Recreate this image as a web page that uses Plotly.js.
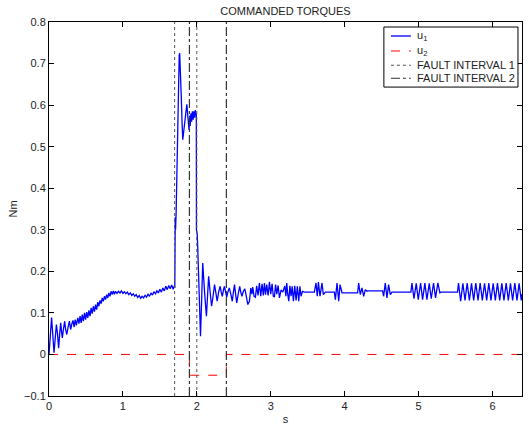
<!DOCTYPE html>
<html>
<head>
<meta charset="utf-8">
<script src="https://cdn.plot.ly/plotly-3.0.1.min.js"></script>
<style>
html,body{margin:0;padding:0;background:#fff;}
#chart{width:529px;height:428px;}
</style>
</head>
<body>
<div id="chart"></div>
<script>
// u1 commanded torque (time s, value Nm)
const u1T = [
0,0.01,0.02,0.035,0.05,0.068,0.085,0.10,0.115,0.13,0.145,0.158,0.17,0.18,0.195,0.212,0.225,0.24,0.258,0.276,0.285,0.293,
0.31,0.325,0.34,0.355,0.37,0.39,0.405,0.42,0.435,0.45,0.465,0.48,0.495,0.51,0.525,0.54,0.555,0.57,0.585,0.60,0.615,0.63,
0.645,0.66,0.675,0.69,0.705,0.72,0.735,0.75,0.765,0.78,0.795,0.81,0.825,0.84,0.855,0.87,0.885,
0.90,0.92,0.94,0.96,0.98,1.00,1.02,1.04,1.06,1.08,1.10,1.12,1.14,1.16,1.18,1.20,1.22,1.24,1.26,1.28,1.30,1.32,1.34,1.36,
1.38,1.40,1.42,1.44,1.46,1.48,1.50,1.52,1.54,1.56,1.58,1.60,1.62,1.64,1.66,1.68,1.695,1.702,
1.703,1.708,1.712,1.72,1.73,1.745,1.755,1.762,1.768,1.772,1.776,1.78,1.79,1.80,1.81,1.825,1.84,1.855,1.865,1.875,1.885,
1.895,1.905,1.91,1.92,1.93,1.94,1.95,1.96,1.97,1.98,1.99,1.993,1.995,2.005,2.012,2.03,2.05,2.065,2.08,2.105,2.13,2.145,
2.16,2.18,2.20,2.22,2.24,2.258,2.275,2.295,2.316,2.33,2.345,2.36,2.374,2.39,2.405,2.42,2.44,2.46,2.48,2.495,2.51,2.525,
2.54,2.56,2.58,2.595,2.61,2.63,2.65,2.67,2.69,
2.712,2.73,2.745,2.757,2.775,2.793,2.81,2.828,2.847,2.865,2.883,2.9,2.915,2.93,2.946,2.965,2.983,3.0,3.019,3.035,3.05,
3.066,3.082,3.1,3.118,3.14,3.163,3.19,3.205,3.217,3.23,3.244,3.26,3.275,3.29,3.307,3.325,3.343,3.36,3.379,3.395,3.41,
3.43,3.455,3.59,3.613,3.63,3.645,3.667,3.694,3.712,3.739,3.861,3.875,3.897,3.92,3.938,3.956,3.965,4.176,4.19,4.212,
4.235,4.258,4.28,4.302,4.311,4.514,4.528,4.55,4.573,4.595,4.618,4.64,4.649,4.897,4.911,4.938,4.969,4.996,5.028,5.055,
5.086,5.113,5.145,5.172,5.203,5.23,5.262,5.289,5.303,5.528,5.541,5.570,5.600,5.629,5.658,5.688,5.717,5.746,5.775,5.805,
5.834,5.863,5.893,5.922,5.951,5.980,6.010,6.039,6.068,6.098,6.127,6.156,6.186,6.215,6.244,6.273,6.303,6.332,6.361,6.39,6.4
];
const u1V = [
0.0,0.045,0.05,0.089,0.04,0.004,0.04,0.072,0.05,0.015,0.05,0.076,0.055,0.04,0.06,0.08,0.06,0.048,0.065,0.08,0.07,0.06,
0.074,0.082,0.066,0.084,0.07,0.088,0.074,0.092,0.076,0.096,0.08,0.1,0.084,0.102,0.088,0.106,0.092,0.112,0.098,0.116,0.103,0.12,
0.108,0.126,0.116,0.13,0.122,0.136,0.128,0.14,0.132,0.144,0.136,0.148,0.14,0.152,0.144,0.153,0.145,
0.152,0.147,0.152,0.148,0.153,0.147,0.151,0.146,0.150,0.144,0.148,0.142,0.146,0.14,0.144,0.137,0.142,0.135,0.14,0.136,0.142,0.138,0.145,0.14,
0.148,0.143,0.151,0.146,0.153,0.148,0.157,0.15,0.16,0.153,0.164,0.156,0.166,0.158,0.167,0.157,0.165,0.16,
0.29,0.33,0.30,0.34,0.45,0.60,0.69,0.72,0.725,0.69,0.71,0.68,0.62,0.56,0.517,0.54,0.57,0.595,0.602,0.58,0.545,
0.54,0.575,0.55,0.58,0.56,0.585,0.565,0.585,0.57,0.588,0.575,0.58,0.30,0.29,0.26,0.15,0.044,0.13,0.22,0.15,0.092,0.14,
0.188,0.15,0.116,0.14,0.168,0.148,0.128,0.15,0.164,0.15,0.14,0.155,0.164,0.15,0.138,0.15,0.16,0.145,0.128,0.15,0.168,0.145,
0.124,0.145,0.164,0.15,0.14,0.152,0.158,0.14,0.12,
0.128,0.16,0.145,0.162,0.14,0.138,0.165,0.142,0.172,0.14,0.17,0.142,0.172,0.144,0.168,0.142,0.175,0.145,0.17,0.14,0.138,
0.168,0.145,0.166,0.136,0.155,0.15,0.165,0.14,0.172,0.145,0.128,0.165,0.14,0.164,0.128,0.165,0.13,0.164,0.128,0.164,0.14,
0.152,0.15,0.15,0.172,0.14,0.174,0.14,0.172,0.144,0.15,0.150,0.132,0.172,0.128,0.168,0.148,0.148,0.148,0.172,0.144,
0.160,0.140,0.156,0.152,0.153,0.153,0.140,0.172,0.136,0.168,0.144,0.150,0.150,0.150,0.172,0.134,0.171,0.132,0.172,0.132,
0.172,0.132,0.171,0.134,0.172,0.136,0.172,0.148,0.150,0.150,0.172,0.128,0.171,0.13,0.172,0.13,0.171,0.13,0.172,0.13,
0.172,0.13,0.171,0.13,0.172,0.13,0.171,0.13,0.172,0.13,0.171,0.13,0.172,0.13,0.171,0.13,0.172,0.13,0.171,0.13,0.145
];
// u2 commanded torque
const u2T = [0, 1.9, 1.9, 2.4, 2.4, 6.4];
const u2V = [0, 0, -0.05, -0.05, 0, 0];
// fault intervals
const fault1 = [1.7, 2.0];
const fault2 = [1.9, 2.4];
const yLimits = [-0.1, 0.8];
const xTicks = [0, 1, 2, 3, 4, 5, 6];
const yTicks = [-0.1, 0, 0.1, 0.2, 0.3, 0.4, 0.5, 0.6, 0.7, 0.8];
const yTickText = ['\u22120.1', '0', '0.1', '0.2', '0.3', '0.4', '0.5', '0.6', '0.7', '0.8'];
const legendNames = ['u<sub>1</sub>', 'u<sub>2</sub>', 'FAULT INTERVAL 1', 'FAULT INTERVAL 2'];

function vlines(xs) {
  const x = [], y = [];
  xs.forEach((v, i) => {
    if (i > 0) { x.push(null); y.push(null); }
    x.push(v, v); y.push(yLimits[0], yLimits[1]);
  });
  return {x, y};
}
const f1 = vlines(fault1), f2 = vlines(fault2);

const font = 'Liberation Sans, Arial, Helvetica, sans-serif';
const styles = [
  {color: '#0000ff', width: 1.3},
  {color: '#ff0000', width: 1, dash: 'dash'},
  {color: '#555555', width: 1, dash: 'dot'},
  {color: '#333333', width: 1.2, dash: 'dashdot'}
];
const traces = [
  {x: u1T, y: u1V, mode: 'lines', name: legendNames[0], line: styles[0], showlegend: false},
  {x: u2T, y: u2V, mode: 'lines', name: legendNames[1], line: styles[1], showlegend: false},
  {x: f1.x, y: f1.y, mode: 'lines', name: legendNames[2], line: styles[2], showlegend: false},
  {x: f2.x, y: f2.y, mode: 'lines', name: legendNames[3], line: styles[3], showlegend: false}
];

// compact MATLAB-style legend box (paper coordinates)
const legBox = {x0: 0.708, x1: 0.9915, y0: 0.826, y1: 0.9866};
const legRows = [0.9626, 0.9225, 0.8844, 0.8496];
const shapes = [{type: 'rect', xref: 'paper', yref: 'paper', x0: legBox.x0, x1: legBox.x1,
                 y0: legBox.y0, y1: legBox.y1, line: {color: '#000', width: 1}, fillcolor: '#fff', layer: 'above'}];
const annotations = [];
legendNames.forEach((n, i) => {
  shapes.push({type: 'line', xref: 'paper', yref: 'paper', x0: 0.723, x1: 0.765,
               y0: legRows[i], y1: legRows[i], line: styles[i], layer: 'above'});
  annotations.push({xref: 'paper', yref: 'paper', x: 0.773, y: legRows[i], xanchor: 'left', yanchor: 'middle',
                    text: n, showarrow: false, font: {family: font, size: 11, color: '#222'}});
});

const axisCommon = {
  showline: true, mirror: 'ticks', linecolor: '#000', linewidth: 1,
  ticks: 'inside', ticklen: 5, tickcolor: '#000', showgrid: false, zeroline: false,
  tickfont: {family: font, size: 11, color: '#222'}
};
const layout = {
  width: 529, height: 428,
  margin: {l: 49, r: 7, t: 22, b: 32},
  paper_bgcolor: '#fff', plot_bgcolor: '#fff',
  font: {family: font, color: '#222'},
  title: {text: 'COMMANDED TORQUES', font: {family: font, size: 11, color: '#222'},
          x: 0.5, xref: 'paper', y: 0.974, yref: 'container', yanchor: 'middle'},
  xaxis: Object.assign({}, axisCommon, {range: [0, 6.4], tickvals: xTicks,
          title: {text: 's', font: {family: font, size: 11, color: '#222'}, standoff: 4}}),
  yaxis: Object.assign({}, axisCommon, {range: yLimits, tickvals: yTicks, ticktext: yTickText,
          title: {text: 'Nm', font: {family: font, size: 11, color: '#222'}, standoff: 4}}),
  showlegend: false,
  shapes: shapes,
  annotations: annotations
};
Plotly.newPlot('chart', traces, layout, {displayModeBar: false, staticPlot: true});
</script>
</body>
</html>
